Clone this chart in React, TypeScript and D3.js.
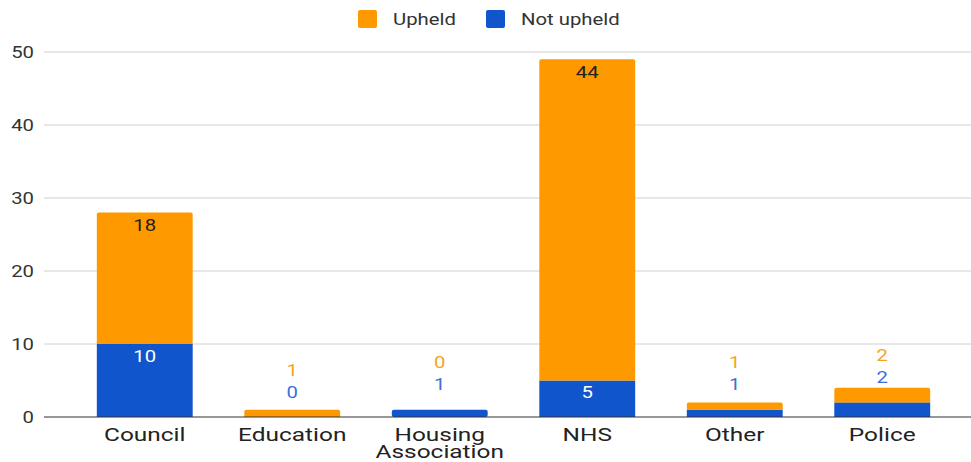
import React from "react";
import * as d3 from "d3";

const categories = ["Council", "Education", "Housing\nAssociation", "NHS", "Other", "Police"];
const notUpheld = [10, 0, 1, 5, 1, 2];
const upheld = [18, 1, 0, 44, 1, 2];
const yTicks = [0, 10, 20, 30, 40, 50];

const W = 971, H = 462;
const ORANGE = "#ff9900";
const BLUE = "#1155cc";
const FONT = "Roboto, 'Noto Sans', sans-serif";
const SX = 1.27;

function T(props: { x: number; y: number; anchor?: string; size: number; fill: string; dy?: string; sx?: number; children: any }) {
  const { x, y, anchor = "start", size, fill, dy, sx = SX, children } = props;
  return (
    <text transform={`translate(${x},${y}) scale(${sx},1)`} textAnchor={anchor} fontSize={size} fill={fill} dy={dy}>
      {children}
    </text>
  );
}

export default function App() {
  const x = d3.scaleBand().domain(categories).range([71, 956]).paddingInner(0.35).paddingOuter(0.175);
  const y = d3.scaleLinear().domain([0, 50]).range([417, 52]);
  const bw = x.bandwidth();
  return (
    <svg width={W} height={H} style={{ position: "absolute", left: 0, top: 0 }} fontFamily={FONT}>
      {/* legend */}
      <rect x={358} y={10} width={19} height={18} rx={2} fill={ORANGE} />
      <T x={393} y={25} size={16} fill="#333">Upheld</T>
      <rect x={486} y={10} width={19} height={18} rx={2} fill={BLUE} />
      <T x={521} y={25} size={16} fill="#333">Not upheld</T>
      {yTicks.map((t) => (
        <g key={t}>
          {t !== 0 && <line x1={44} x2={971} y1={y(t)} y2={y(t)} stroke="#d0d0d0" strokeWidth={1} />}
          <T x={34} y={y(t)} dy="0.35em" anchor="end" size={16} fill="#333">{t}</T>
        </g>
      ))}
      {categories.map((c, i) => {
        const x0 = x(c)!;
        const cx = x0 + bw / 2;
        const nb = notUpheld[i], up = upheld[i];
        const blueTop = y(nb);
        const orangeTop = y(nb + up);
        const small = nb + up < 10;
        const lines = c.split("\n");
        return (
          <g key={c}>
            {nb > 0 && <rect x={x0} y={blueTop} width={bw} height={y(0) - blueTop} fill={BLUE} rx={up > 0 ? 0 : 2} />}
            {up > 0 && (
              <path
                d={`M${x0},${blueTop} V${orangeTop + 2} Q${x0},${orangeTop} ${x0 + 2},${orangeTop} H${x0 + bw - 2} Q${x0 + bw},${orangeTop} ${x0 + bw},${orangeTop + 2} V${blueTop} Z`}
                fill={ORANGE}
              />
            )}
            {small ? (
              <>
                <T x={cx} y={blueTop - 25} dy="0.35em" anchor="middle" size={16} fill="#3c6fd6">{nb}</T>
                <T x={cx} y={blueTop - 47} dy="0.35em" anchor="middle" size={16} fill="#f4a41e">{up}</T>
              </>
            ) : (
              <>
                <T x={cx} y={blueTop + 12} dy="0.35em" anchor="middle" size={16} fill="#fff">{nb}</T>
                <T x={cx} y={orangeTop + 13} dy="0.35em" anchor="middle" size={16} fill="#222">{up}</T>
              </>
            )}
            {lines.map((l, j) => (
              <T key={j} x={cx} y={441 + j * 17} anchor="middle" size={18.5} sx={1.32} fill="#222">{l}</T>
            ))}
          </g>
        );
      })}
      <line x1={44} x2={971} y1={y(0)} y2={y(0)} stroke="#333" strokeWidth={1.2} />
    </svg>
  );
}
